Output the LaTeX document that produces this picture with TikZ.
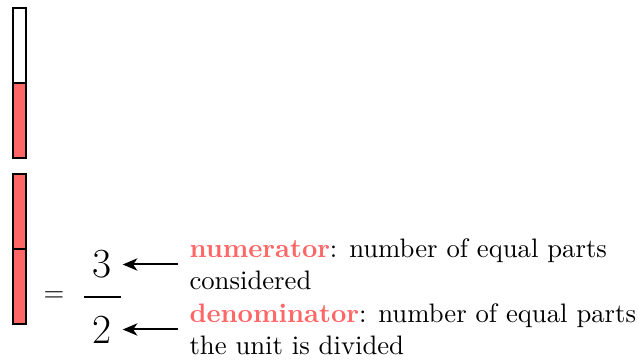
\documentclass[tikz,border=0pt]{standalone}
\usetikzlibrary{arrows.meta}
\definecolor{frred}{RGB}{255,102,102}
\begin{document}
\begin{tikzpicture}[x=0.3745pt,y=-0.3745pt,
  seg/.style={draw=black, line width=0.8pt},
  lbl/.style={align=left, inner sep=0pt, anchor=north west},
  digit/.style={inner sep=0pt, font=\fontsize{15.5}{18}\selectfont},
  arr/.style={-{Stealth[length=5.5pt,width=4.6pt,inset=1.6pt]}, line width=0.75pt},
  hl/.style={text=frred, font=\bfseries}]
\useasboundingbox (0,0) rectangle (638,362);
% first unit bar
\filldraw[seg, fill=white] (13,8) rectangle (26,83);
\filldraw[seg, fill=frred] (13,83) rectangle (26,158);
% second unit bar
\filldraw[seg, fill=frred] (13,174) rectangle (26,249);
\filldraw[seg, fill=frred] (13,249) rectangle (26,324);
% equals and fraction
\node[inner sep=0pt] (eq) at (54,297) {$=$};
\node[digit] (num) at (102,264.5) {3};
\node[digit] (den) at (102,329.5) {2};
\coordinate (barl) at (84,296.7);
\coordinate (barr) at (121,296.7);
\draw[line width=0.8pt] (barl) -- (barr);
% labels
\node[lbl] (numtext) at (189,238) {\textcolor{frred}{\textbf{numerator}}: number of equal parts\\considered};
\node[lbl] (dentext) at (189,303) {\textcolor{frred}{\textbf{denominator}}: number of equal parts\\the unit is divided};
\draw[arr] ([xshift=-4.1pt]numtext.west |- num.east) -- ([xshift=4pt]num.east);
\draw[arr] ([xshift=-4.1pt]dentext.west |- den.east) -- ([xshift=4pt]den.east);
\end{tikzpicture}
\end{document}
